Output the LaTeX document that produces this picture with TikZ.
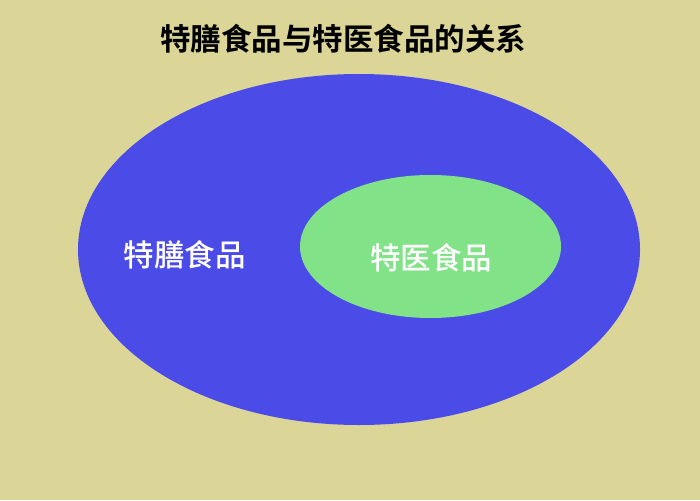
\documentclass[tikz,border=0pt]{standalone}
\usepackage{fontspec}
\newfontfamily\cjk{Noto Sans CJK SC Medium}
\newfontfamily\cjkb{Noto Sans CJK SC Bold}
\definecolor{bgc}{HTML}{DBD598}
\definecolor{bluec}{HTML}{4B4BE8}
\definecolor{greenc}{HTML}{82E287}
\begin{document}
\begin{tikzpicture}[x=1pt,y=-1pt,
  lbl/.style={text=white,font=\cjk\fontsize{30.5}{32}\selectfont,inner sep=0pt},
  ttl/.style={text=black,font=\cjkb\fontsize{30.5}{33}\selectfont,inner sep=0pt}]
\fill[bgc] (0,0) rectangle (700,500);
\useasboundingbox (0,0) rectangle (700,500);
\fill[bluec] (359,249.5) ellipse [x radius=281, y radius=175.5];
\fill[greenc] (430.5,246.5) ellipse [x radius=130.5, y radius=71.5];
\node[ttl] (title) at (343,39) {特膳食品与特医食品的关系};
\node[lbl] (a) at (184.5,255) {特膳食品};
\node[lbl] (b) at (431,258) {特医食品};
\end{tikzpicture}
\end{document}
